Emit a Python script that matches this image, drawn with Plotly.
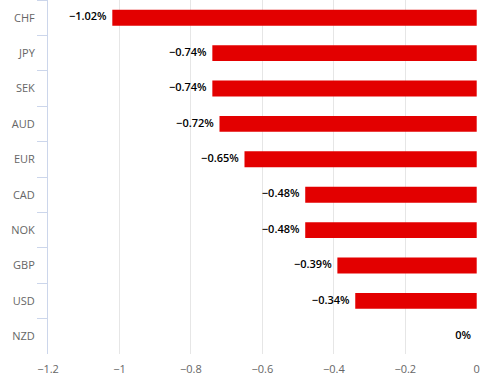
import plotly.graph_objects as go

currencies = ["CHF", "JPY", "SEK", "AUD", "EUR", "CAD", "NOK", "GBP", "USD", "NZD"]
changes = [-1.02, -0.74, -0.74, -0.72, -0.65, -0.48, -0.48, -0.39, -0.34, 0]
x_ticks = [-1.2, -1, -0.8, -0.6, -0.4, -0.2, 0]


def fmt(v):
    s = f"{abs(v):.2f}".rstrip("0").rstrip(".")
    return ("\u2212" if v < 0 else "") + s + "%"


labels = [fmt(v) + "  " for v in changes]

fig = go.Figure()
fig.add_trace(go.Bar(
    x=changes, y=currencies, orientation="h",
    marker=dict(color="#e30000", line=dict(width=0)),
    hoverinfo="skip",
))
fig.add_trace(go.Scatter(
    x=changes, y=currencies, mode="text", text=labels,
    textposition="middle left",
    textfont=dict(family="Open Sans, sans-serif", size=11, color="#000000", weight=600),
    hoverinfo="skip", cliponaxis=False,
))

fig.update_layout(
    width=487, height=381,
    margin=dict(l=48, r=10, t=0, b=27, autoexpand=False),
    paper_bgcolor="white", plot_bgcolor="white",
    showlegend=False, bargap=0.55,
    font=dict(family="Open Sans, sans-serif", size=11, color="#666666"),
)
fig.update_xaxes(
    range=[-1.2, 0.0008], tickvals=x_ticks,
    ticktext=[("\u2212" if t < 0 else "") + f"{abs(t):g}" for t in x_ticks],
    showgrid=True, gridcolor="#e6e6e6", gridwidth=1,
    zeroline=False, showline=False, ticks="", automargin=False,
    ticklabelstandoff=7,
    tickfont=dict(size=11, color="#666666"),
)
fig.update_yaxes(
    categoryorder="array", categoryarray=currencies, autorange="reversed",
    showgrid=False, zeroline=False, automargin=False,
    showline=True, linecolor="#ccd6eb", linewidth=1,
    ticks="outside", ticklen=10, tickcolor="#ccd6eb", tickson="boundaries",
    ticklabelstandoff=10,
    tickfont=dict(size=11, color="#666666"),
)

fig.write_html(
    "out.html",
    config={"displayModeBar": False},
    post_script="document.body.style.margin='0';document.body.style.padding='0';",
)
